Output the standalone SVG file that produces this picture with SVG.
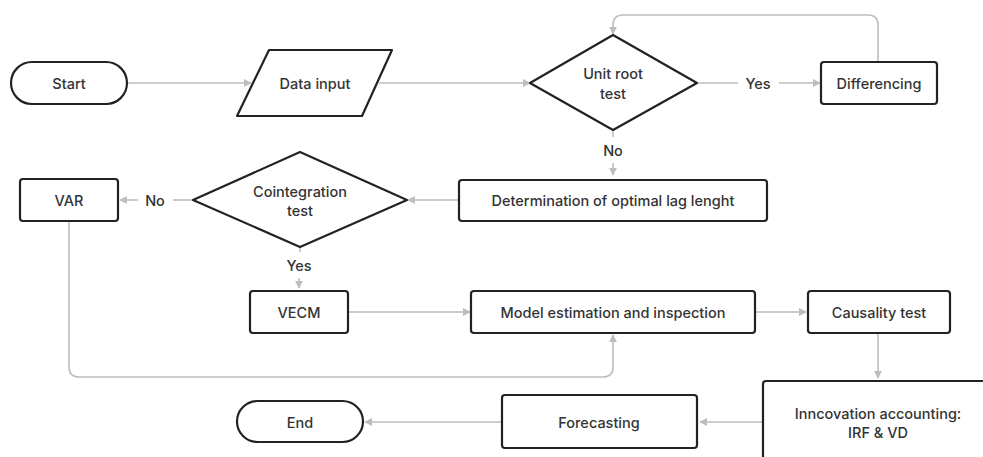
<svg xmlns="http://www.w3.org/2000/svg" width="983" height="457" viewBox="0 0 983 457">
<style>
.n{fill:#fff;stroke:#222;stroke-width:2.2;stroke-linejoin:round}
.t{font-family:Inter,"Liberation Sans",sans-serif;font-size:14.5px;font-weight:500;fill:#333;text-anchor:middle;dominant-baseline:central}
.c{fill:none;stroke:#bdbdbd;stroke-width:1.6}
.l{font-family:Inter,"Liberation Sans",sans-serif;font-size:14.5px;font-weight:500;fill:#333;text-anchor:middle;dominant-baseline:central}
</style>
<defs>
<marker id="a" viewBox="0 0 10 10" refX="9" refY="5" markerWidth="8" markerHeight="8" markerUnits="userSpaceOnUse" orient="auto"><path d="M0,0 L10,5 L0,10 z" fill="#bdbdbd"/></marker>
</defs>
<rect width="983" height="457" fill="#fff"/>
<g id="connectors">
<path class="c" d="M127,83 H251" marker-end="url(#a)"/>
<path class="c" d="M379,83 H530" marker-end="url(#a)"/>
<path class="c" d="M697,83 H738"/>
<text class="l" x="758" y="83">Yes</text>
<path class="c" d="M779,83 H820" marker-end="url(#a)"/>
<path class="c" d="M878,62 V25 Q878,15 868,15 H623 Q613,15 613,25 V34" marker-end="url(#a)"/>
<path class="c" d="M613,130 V137"/>
<text class="l" x="613" y="150">No</text>
<path class="c" d="M613,163 V175" marker-end="url(#a)"/>
<path class="c" d="M459,200 H408" marker-end="url(#a)"/>
<path class="c" d="M193,200 H173"/>
<text class="l" x="155" y="200">No</text>
<path class="c" d="M138,200 H120" marker-end="url(#a)"/>
<path class="c" d="M300,247 V252"/>
<text class="l" x="299" y="265">Yes</text>
<path class="c" d="M299,278 V288" marker-end="url(#a)"/>
<path class="c" d="M348,312 H470" marker-end="url(#a)"/>
<path class="c" d="M69,221 V367 Q69,377 79,377 H603 Q613,377 613,367 V335" marker-end="url(#a)"/>
<path class="c" d="M755,312 H806" marker-end="url(#a)"/>
<path class="c" d="M878,333 V378" marker-end="url(#a)"/>
<path class="c" d="M763,422 H700" marker-end="url(#a)"/>
<path class="c" d="M502,422 H365" marker-end="url(#a)"/>
</g>
<g id="start"><rect class="n" x="11" y="62" width="116" height="42" rx="21"/><text class="t" x="69" y="83">Start</text></g>
<g id="data-input"><path class="n" d="M269,50 H392 L362,116 H237 Z"/><text class="t" x="315" y="83">Data input</text></g>
<g id="unit-root"><path class="n" d="M613,35 L697,83 L613,130 L530,83 Z"/><text class="t" x="613" y="73">Unit root</text><text class="t" x="613" y="93">test</text></g>
<g id="differencing"><rect class="n" x="821" y="62" width="116" height="42" rx="3"/><text class="t" x="879" y="83">Differencing</text></g>
<g id="lag"><rect class="n" x="459" y="180" width="308" height="41" rx="3"/><text class="t" x="613" y="200">Determination of optimal lag lenght</text></g>
<g id="cointegration"><path class="n" d="M300,152 L407,200 L300,247 L193,200 Z"/><text class="t" x="300" y="191">Cointegration</text><text class="t" x="300" y="210">test</text></g>
<g id="var"><rect class="n" x="20" y="179" width="98" height="42" rx="3"/><text class="t" x="69" y="200">VAR</text></g>
<g id="vecm"><rect class="n" x="250" y="291" width="98" height="42" rx="3"/><text class="t" x="299" y="312">VECM</text></g>
<g id="model"><rect class="n" x="471" y="291" width="284" height="42" rx="3"/><text class="t" x="613" y="312">Model estimation and inspection</text></g>
<g id="causality"><rect class="n" x="808" y="291" width="142" height="42" rx="3"/><text class="t" x="879" y="312">Causality test</text></g>
<g id="innovation"><rect class="n" x="763" y="381" width="240" height="100" rx="3"/><text class="t" x="878" y="413">Inncovation accounting:</text><text class="t" x="878" y="432">IRF &amp; VD</text></g>
<g id="forecasting"><rect class="n" x="502" y="395" width="195" height="53" rx="3"/><text class="t" x="599" y="422">Forecasting</text></g>
<g id="end"><rect class="n" x="237" y="401" width="126" height="41" rx="20.5"/><text class="t" x="300" y="422">End</text></g>
</svg>
